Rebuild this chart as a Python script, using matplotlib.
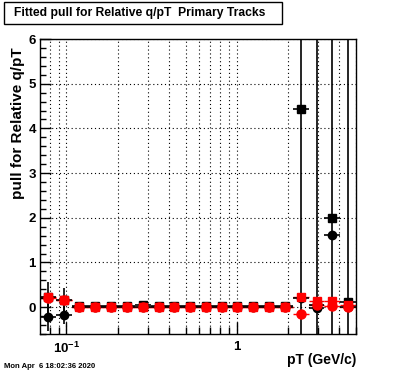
import matplotlib
matplotlib.use('Agg')
import matplotlib.pyplot as plt
from matplotlib.ticker import FixedLocator, NullFormatter, MultipleLocator

plt.rcParams['font.family'] = ['Liberation Sans', 'DejaVu Sans']
plt.rcParams['font.weight'] = 'bold'
plt.rcParams['mathtext.fontset'] = 'custom'
plt.rcParams['mathtext.rm'] = 'Liberation Sans:bold'
plt.rcParams['mathtext.bf'] = 'Liberation Sans:bold'

# pT bins (GeV/c), log-spaced
pt_edges = [0.07, 0.0867, 0.1073, 0.1328, 0.1643, 0.2035, 0.2519, 0.3118,
            0.3860, 0.4778, 0.5916, 0.7323, 0.9067, 1.1222, 1.3894, 1.7199,
            2.1291, 2.6356, 3.2628, 4.0392, 5.0]
pt_centres = [0.0779, 0.0964, 0.1193, 0.1477, 0.1829, 0.2264, 0.2803, 0.3470,
              0.4295, 0.5317, 0.6582, 0.8148, 1.0087, 1.2487, 1.5459, 1.9137,
              2.3690, 2.9327, 3.6305, 4.4944]

black_circle = [-0.23, -0.17, 0.00, 0.00, 0.00, 0.00, 0.01, 0.00, 0.00, 0.00,
                0.00, 0.00, 0.00, 0.00, 0.00, 0.00, 0.21, -0.02, 1.62, 0.00]
black_circle_err = [0.30, 0.20, 0.02, 0.02, 0.02, 0.02, 0.02, 0.02, 0.02, 0.02,
                    0.02, 0.02, 0.02, 0.02, 0.02, 0.02, 0.05, 0.05, 0.05, 0.05]
black_square = [0.22, 0.17, 0.02, 0.02, 0.02, 0.02, 0.04, 0.02, 0.02, 0.02,
                0.02, 0.02, 0.02, 0.02, 0.02, 0.02, 4.43, 0.05, 2.00, 0.12]
black_square_err = [0.35, 0.25, 0.02, 0.02, 0.02, 0.02, 0.02, 0.02, 0.02, 0.02,
                    0.02, 0.02, 0.02, 0.02, 0.02, 0.02, 9.0, 9.0, 9.0, 9.0]
red_square = [0.22, 0.17, 0.01, 0.00, 0.00, 0.00, 0.00, 0.00, 0.00, 0.00,
              0.00, 0.00, 0.00, 0.00, 0.00, 0.00, 0.23, 0.13, 0.13, 0.04]
red_circle = [0.20, 0.16, 0.00, 0.00, 0.00, 0.00, 0.00, 0.00, 0.00, 0.00,
              0.00, 0.00, 0.00, 0.00, 0.00, 0.00, -0.15, 0.05, 0.03, 0.00]
red_err = [0.02] * 20

x_minor_ticks = [0.08, 0.09, 0.2, 0.3, 0.4, 0.5, 0.6, 0.7, 0.8, 0.9, 2, 3, 4, 5]
x_major_ticks = [0.1, 1]

xerr = [[c - lo for c, lo in zip(pt_centres, pt_edges[:-1])],
        [hi - c for c, hi in zip(pt_centres, pt_edges[1:])]]

fig = plt.figure(figsize=(3.96, 3.72), dpi=100)
ax = fig.add_axes([40 / 396, 38 / 372, 316 / 396, 295 / 372])

ax.set_xscale('log')
ax.set_xlim(0.07, 5.0)
ax.set_ylim(-0.6, 6.0)

# grid at every x tick, integer y
for v in x_minor_ticks + x_major_ticks:
    ax.axvline(v, color='black', lw=0.8, ls=(0, (1, 2.5)), zorder=0)
for v in range(0, 7):
    ax.axhline(v, color='black', lw=0.8, ls=(0, (1, 2.5)), zorder=0)

# red error bars underneath, black series over them, red markers on top
ax.errorbar(pt_centres, red_square, yerr=red_err, xerr=xerr,
            fmt='none', ecolor='red', lw=1, capsize=0, zorder=1)
ax.errorbar(pt_centres, red_circle, yerr=red_err, xerr=xerr,
            fmt='none', ecolor='red', lw=1, capsize=0, zorder=1)
ax.errorbar(pt_centres, black_square, yerr=black_square_err, xerr=xerr,
            fmt='s', color='black', ms=5.5, lw=1.2, capsize=0, zorder=2)
ax.errorbar(pt_centres, black_circle, yerr=black_circle_err, xerr=xerr,
            fmt='o', color='black', ms=6, lw=1.2, capsize=0, zorder=2)
ax.plot(pt_centres, red_square, 's', color='red', ms=5.5, zorder=3)
ax.plot(pt_centres, red_circle, 'o', color='red', ms=6.5, zorder=3)

ax.xaxis.set_major_locator(FixedLocator(x_major_ticks))
ax.xaxis.set_minor_locator(FixedLocator(x_minor_ticks))
ax.set_xticklabels([r'$\mathbf{10^{-1}}$', '1'])
ax.xaxis.set_minor_formatter(NullFormatter())
ax.yaxis.set_major_locator(MultipleLocator(1))
ax.yaxis.set_minor_locator(MultipleLocator(0.2))

ax.tick_params(which='both', direction='in', top=False, right=False,
               labelsize=9.5, width=1)
ax.tick_params(axis='y', which='major', length=8, pad=3)
ax.tick_params(axis='y', which='minor', length=4)
ax.tick_params(axis='x', which='major', length=9, pad=5)
ax.tick_params(axis='x', which='minor', length=5)
for s in ax.spines.values():
    s.set_linewidth(1)

fig.text(18 / 396, 1 - 123 / 372, 'pull for Relative q/pT', rotation=90,
         ha='center', va='center', fontsize=11, fontweight='bold')
fig.text(356 / 396, 1 - 360 / 372, 'pT (GeV/c)', ha='right', va='center',
         fontsize=10, fontweight='bold')
fig.text(4 / 396, 1 - 366 / 372, 'Mon Apr  6 18:02:36 2020', ha='left',
         va='center', fontsize=5.5, fontweight='bold')

fig.text(14 / 396, 1 - 13 / 372, 'Fitted pull for Relative q/pT  Primary Tracks',
         ha='left', va='center', fontsize=8.7, fontweight='bold')
fig.patches.append(plt.Rectangle((4 / 396, 1 - 24 / 372), 278 / 396, 22 / 372,
                                 transform=fig.transFigure, fill=False,
                                 edgecolor='black', lw=1))

fig.savefig('out.png', dpi=100)
